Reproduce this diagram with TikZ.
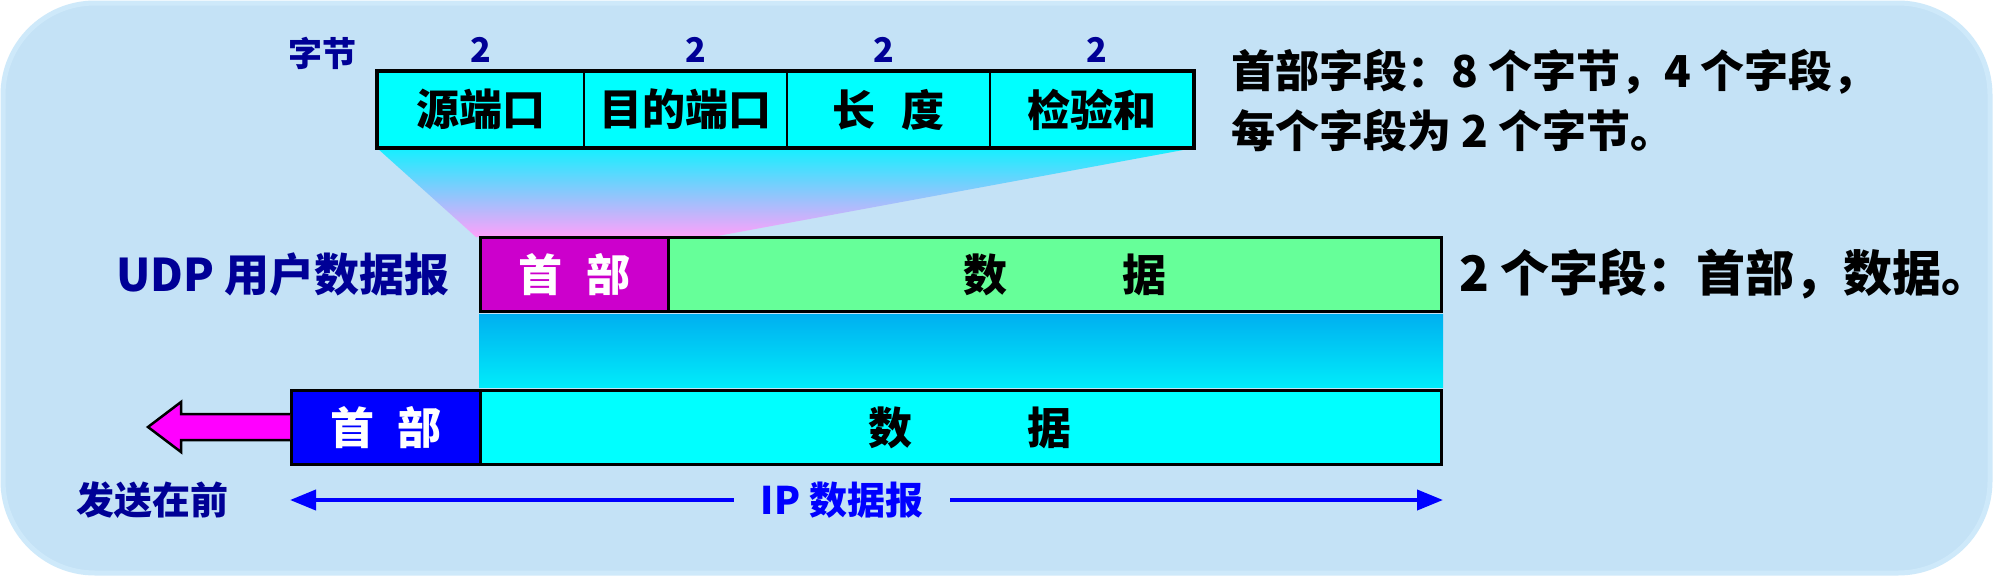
\documentclass[tikz,border=0pt]{standalone}
\usepackage{fontspec}
\setmainfont{Noto Sans CJK SC}
\usetikzlibrary{arrows.meta}
\definecolor{bgblue}{RGB}{196,226,246}
\definecolor{bgedge}{RGB}{206,233,250}
\definecolor{navy}{RGB}{0,0,150}
\definecolor{ipblue}{RGB}{0,0,255}
\definecolor{boxcyan}{RGB}{0,255,255}
\definecolor{udpmag}{RGB}{204,0,204}
\definecolor{udpgreen}{RGB}{102,255,153}
\definecolor{arrowmag}{RGB}{255,0,255}
\definecolor{fadecyan}{RGB}{20,240,255}
\definecolor{fadepink}{RGB}{255,160,250}
\definecolor{bandtop}{RGB}{0,176,240}
\definecolor{bandbot}{RGB}{0,236,250}
\begin{document}
\begin{tikzpicture}[x=1pt,y=-1pt,
  fsz/.style={font=\bfseries\fontsize{#1}{#1}\selectfont},
  fieldbox/.style={draw=black, line width=2pt, fill=boxcyan, inner sep=0pt,
    anchor=north west, minimum height=75pt, fsz=43},
  rowbox/.style={draw=black, line width=3pt, inner sep=0pt, anchor=north west,
    minimum height=74pt, fsz=44},
  navylabel/.style={text=navy, inner sep=0pt},
  blacklabel/.style={text=black, inner sep=0pt, anchor=west},
  iparrow/.style={draw=ipblue, line width=4pt, -{Triangle[length=26pt,width=20pt]}},
  blockarrow/.style={draw=black, line width=2.5pt, fill=arrowmag, line join=miter}
]
\useasboundingbox (0,0) rectangle (1993,576);
% background
\fill[white] (0,0) rectangle (1993,576);
\draw[fill=bgblue, draw=bgedge, line width=5pt, rounded corners=92pt] (3,3) rectangle (1990,573);

% top header fields
\node[fieldbox, minimum width=206pt] (src) at (377,71) {源端口};
\node[fieldbox, minimum width=203pt] (dst) at (583,71) {目的端口};
\node[fieldbox, minimum width=203pt] (len) at (786,71) {长\hspace{26pt}度};
\node[fieldbox, minimum width=203pt] (chk) at (989,71) {检验和};

% fan from top header to UDP header
\coordinate (fanR) at (712,237);
\coordinate (fanL) at (476,237);
\shade[top color=fadecyan, bottom color=fadepink]
  (src.south west) -- (chk.south east) -- (fanR) -- (fanL) -- cycle;

% UDP datagram row
\node[rowbox, fill=udpmag, text=white, minimum width=188pt] (udphdr) at (479,236) {首\hspace{24pt}部};
\node[rowbox, fill=udpgreen, minimum width=773pt] (udpdata) at (667,236) {\hspace{20pt}数\hspace{116pt}据};

% gradient band
\shade[top color=bandtop, bottom color=bandbot] ([yshift=-1.5pt]udphdr.south west) rectangle ([yshift=1.5pt]udpdata.south east |- 0,389);

% IP datagram row
\node[rowbox, fill=ipblue, text=white, minimum width=189pt] (iphdr) at (290,389) {首\hspace{24pt}部};
\node[rowbox, fill=boxcyan, minimum width=961pt] (ipdata) at (479,389) {\hspace{18pt}数\hspace{116pt}据};

% redraw outline of top header
\draw[line width=3.5pt] (src.north west) rectangle (chk.south east);

% byte labels
\node[navylabel, fsz=34] (bytes) at (322,53) {字节};
\node[navylabel, fsz=34] (n1) at (481,50) {2};
\node[navylabel, fsz=34] (n2) at (696,50) {2};
\node[navylabel, fsz=34] (n3) at (884,50) {2};
\node[navylabel, fsz=34] (n4) at (1097,50) {2};

% side texts
\node[blacklabel, fsz=44] (note1) at (1231,72) {首部字段：8 个字节，4 个字段，};
\node[blacklabel, fsz=44] (note2) at (1231,131) {每个字段为 2 个字节。};
\node[blacklabel, fsz=49] (note3) at (1459,274) {2 个字段：首部，数据。};
\node[navylabel, fsz=45, anchor=east] (udplabel) at (450,274) {UDP 用户数据报};

% send-first block arrow
\draw[blockarrow] (iphdr.west |- 0,414) -- (181,414) -- (181,402) -- (148,427)
  -- (181,452) -- (181,440) -- (iphdr.west |- 0,440);
\node[navylabel, fsz=38] (sendfirst) at (152,500) {发送在前};

% IP datagram span
\node[text=ipblue, inner ysep=0pt, inner xsep=27pt, fsz=38] (iplabel) at (842,500) {IP 数据报};
\draw[iparrow] (iplabel.west) -- (iplabel.west -| iphdr.west);
\draw[iparrow] (iplabel.east) -- (iplabel.east -| ipdata.east);
\end{tikzpicture}
\end{document}
